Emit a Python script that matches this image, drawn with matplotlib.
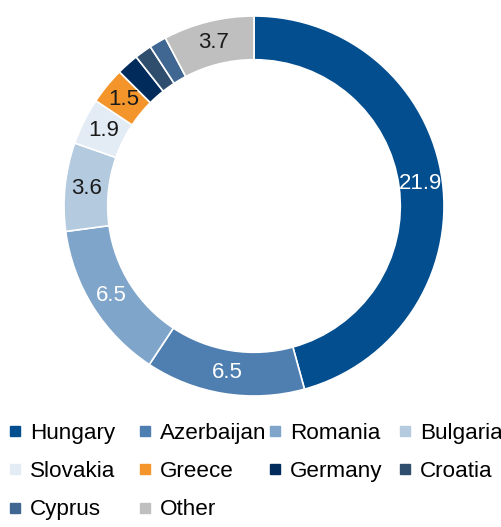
import numpy as np
import matplotlib.pyplot as plt
from matplotlib.lines import Line2D

countries = ["Hungary", "Azerbaijan", "Romania", "Bulgaria", "Slovakia",
             "Greece", "Germany", "Croatia", "Cyprus", "Other"]
values = [21.9, 6.5, 6.5, 3.6, 1.9, 1.5, 0.9, 0.7, 0.7, 3.7]
labels = ["21.9", "6.5", "6.5", "3.6", "1.9", "1.5", "", "", "", "3.7"]
colors = ["#034e8e", "#4f7fb0", "#7fa5ca", "#b3cadf", "#e3ebf4",
          "#f3952b", "#002b5b", "#2f4e6d", "#3f6791", "#bfbfbf"]
label_colors = ["white", "white", "white", "#1a1a1a", "#1a1a1a",
                "#1a1a1a", "white", "white", "white", "#1a1a1a"]

plt.rcParams['font.family'] = ['Liberation Sans', 'DejaVu Sans']

fig = plt.figure(figsize=(5.02, 5.27), dpi=100)
ax = fig.add_axes([64/502, (527-206-190)/527, 380/502, 380/527])

wedges, _ = ax.pie(values, colors=colors, startangle=90, counterclock=False,
                   wedgeprops=dict(width=0.23, edgecolor="white", linewidth=1.2))

# data labels in the middle of the ring
total = sum(values)
start = 90.0
for v, lab, c in zip(values, labels, label_colors):
    mid = np.deg2rad(start - v / total * 360 / 2)
    start -= v / total * 360
    if lab:
        ax.text(0.885 * np.cos(mid), 0.885 * np.sin(mid), lab, color=c,
                fontsize=16, ha="center", va="center")
ax.set_xlim(-1, 1)
ax.set_ylim(-1, 1)
ax.set_aspect("equal")

# legend: four fixed-width columns like the source
cols = [[0, 4, 8], [1, 5, 9], [2, 6], [3, 7]]
col_x = [0.017, 0.276, 0.535, 0.794]
for cx, idx in zip(col_x, cols):
    handles = [Line2D([], [], marker="s", linestyle="none", markersize=6.5,
                      markerfacecolor=colors[i], markeredgecolor=colors[i])
               for i in idx]
    fig.legend(handles, [countries[i] for i in idx], loc="upper left",
               bbox_to_anchor=(cx, 0.197), frameon=False, fontsize=16.2,
               handlelength=0.6, handletextpad=0.35, labelspacing=0.76,
               borderpad=0, borderaxespad=0)

fig.savefig("out.png", dpi=100)
